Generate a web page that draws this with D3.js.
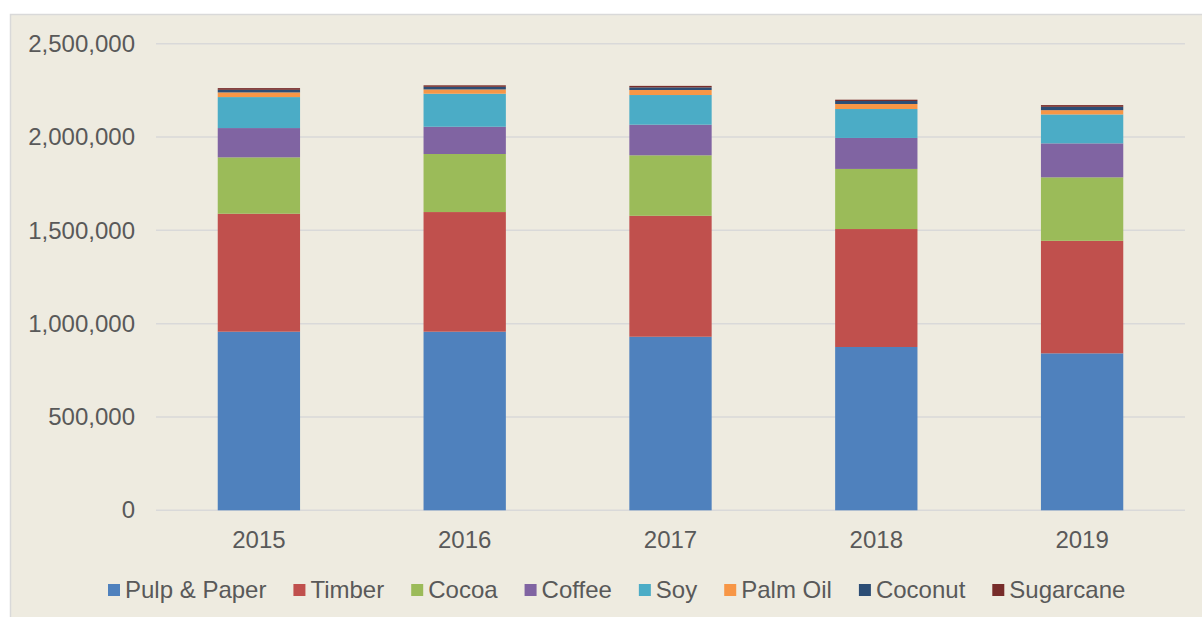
<!DOCTYPE html>
<html>
<head>
<meta charset="utf-8">
<script src="https://cdn.jsdelivr.net/npm/d3@7"></script>
<style>
  html, body { margin: 0; padding: 0; background: #ffffff; }
  svg { display: block; }
  text { font-family: "Liberation Sans", Arial, sans-serif; fill: #595959; }
</style>
</head>
<body>
<svg id="chart" width="1202" height="617"></svg>
<script>
// Years shown on the category axis
const years = ["2015", "2016", "2017", "2018", "2019"];

// Commodity series, stacked bottom to top
const seriesNames = ["Pulp & Paper", "Timber", "Cocoa", "Coffee", "Soy", "Palm Oil", "Coconut", "Sugarcane"];
const seriesColors = ["#4F81BD", "#C0504D", "#9BBB59", "#8064A2", "#4BACC6", "#F79646", "#2C4D75", "#772C2A"];

// Values per series, one per year
const pulpPaper = [957000, 957000, 930000, 875000, 841000];
const timber    = [632000, 641000, 648000, 632000, 603000];
const cocoa     = [302000, 311000, 324000, 322000, 340000];
const coffee    = [157000, 146000, 164000, 166000, 182000];
const soy       = [166000, 177000, 159000, 155000, 155000];
const palmOil   = [25000, 23000, 27000, 27000, 23000];
const coconut   = [14000, 14000, 14000, 16000, 18000];
const sugarcane = [9000, 8000, 8000, 7000, 9000];

// Value axis ticks
const yTicks = [0, 500000, 1000000, 1500000, 2000000, 2500000];

const seriesValues = [pulpPaper, timber, cocoa, coffee, soy, palmOil, coconut, sugarcane];

const rows = years.map((y, i) => {
  const r = { year: y };
  seriesNames.forEach((s, j) => { r[s] = seriesValues[j][i]; });
  return r;
});

const fontSize = 24;
const svg = d3.select("#chart");

// Chart area background and frame
svg.append("rect")
  .attr("x", 10.5).attr("y", 14.5)
  .attr("width", 1230).attr("height", 640)
  .attr("fill", "#EEEBE0")
  .attr("stroke", "#D9D9D9")
  .attr("stroke-width", 1.5);

const plot = { left: 156, right: 1185, top: 43.7, bottom: 510.3 };

const x = d3.scaleBand()
  .domain(years)
  .range([plot.left, plot.right])
  .paddingInner(0.6)
  .paddingOuter(0.3);

const y = d3.scaleLinear()
  .domain([0, 2500000])
  .range([plot.bottom, plot.top]);

// Gridlines
svg.append("g")
  .selectAll("line")
  .data(yTicks)
  .join("line")
  .attr("x1", plot.left).attr("x2", plot.right)
  .attr("y1", d => y(d)).attr("y2", d => y(d))
  .attr("stroke", "#D9D9D9")
  .attr("stroke-width", 1.5);

// Value axis labels
const yAxis = d3.axisLeft(y)
  .tickValues(yTicks)
  .tickFormat(d3.format(","))
  .tickSize(0)
  .tickPadding(0);

const yg = svg.append("g")
  .attr("transform", `translate(135,0)`)
  .call(yAxis);
yg.select(".domain").remove();
yg.selectAll("text")
  .attr("font-size", fontSize)
  .attr("fill", "#595959")
  .style("font-family", "'Liberation Sans', Arial, sans-serif");

// Stacked bars
const stack = d3.stack().keys(seriesNames);
const layers = stack(rows);

svg.append("g")
  .selectAll("g")
  .data(layers)
  .join("g")
  .attr("fill", (d, i) => seriesColors[i])
  .selectAll("rect")
  .data(d => d)
  .join("rect")
  .attr("x", d => x(d.data.year))
  .attr("width", x.bandwidth())
  .attr("y", d => y(d[1]))
  .attr("height", d => y(d[0]) - y(d[1]));

// Category axis labels
const xAxis = d3.axisBottom(x).tickSize(0).tickPadding(0);
const xg = svg.append("g")
  .attr("transform", `translate(0,${plot.bottom + 20})`)
  .call(xAxis);
xg.select(".domain").remove();
xg.selectAll("text")
  .attr("font-size", fontSize)
  .attr("fill", "#595959")
  .attr("dy", "0.72em")
  .style("font-family", "'Liberation Sans', Arial, sans-serif");

// Legend
const legend = svg.append("g").attr("class", "legend");
let lx = 108;
const ly = 590;
seriesNames.forEach((name, i) => {
  const g = legend.append("g");
  g.append("rect")
    .attr("x", lx).attr("y", ly - 6)
    .attr("width", 12).attr("height", 12)
    .attr("fill", seriesColors[i]);
  const t = g.append("text")
    .attr("x", lx + 17).attr("y", ly)
    .attr("dy", "0.35em")
    .attr("font-size", fontSize)
    .text(name);
  lx += 17 + t.node().getComputedTextLength() + 27;
});
</script>
</body>
</html>
